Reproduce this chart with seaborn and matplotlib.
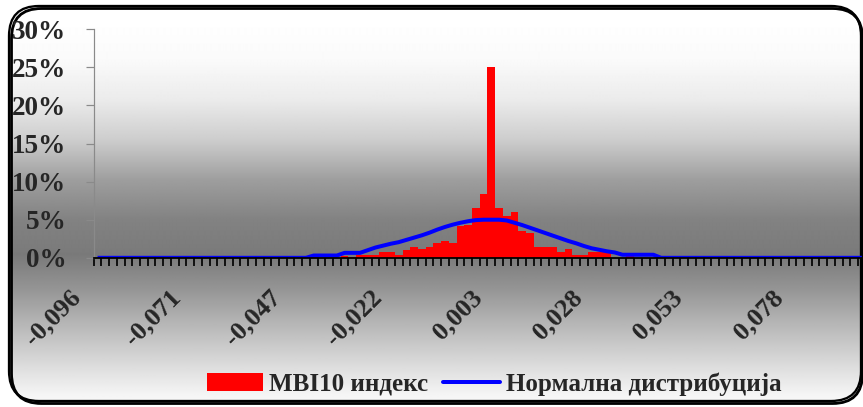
import numpy as np
import pandas as pd
import matplotlib
matplotlib.use('Agg')
import matplotlib.pyplot as plt
import seaborn as sns
from matplotlib.patches import FancyBboxPatch, Patch
from matplotlib.lines import Line2D
import matplotlib.transforms as mtransforms

# ---------------- data ----------------
bins = list(range(100))
mbi10 = ([0.0] * 25 + [0.15] * 4 + [0.0] * 3 +
         [0.3, 0.1, 0.35, 0.35, 0.35, 0.7, 0.7, 0.4, 1.0, 1.45, 1.2, 1.45,
          2.0, 2.2, 2.0, 4.2, 4.3, 6.55, 8.4, 25.1, 6.55, 5.5, 6.0, 3.5, 3.3,
          1.4, 1.4, 1.4, 0.7, 1.2, 0.4, 0.4, 0.7, 0.7, 0.7, 0.0, 0.0, 0.2] +
         [0.0] * 6 + [0.1] * 3 + [0.0] * 5 + [0.1] + [0.0] * 15)
normal = ([0.0] * 28 + [0.3] * 4 + [0.65] * 3 +
          [1.0, 1.35, 1.6, 1.85, 2.05, 2.35, 2.65, 2.95, 3.3, 3.7, 4.05, 4.35,
           4.6, 4.8, 4.95, 5.0, 5.0, 5.0, 4.9, 4.6, 4.3, 3.95, 3.6, 3.25, 2.9,
           2.55, 2.2, 1.9, 1.55, 1.25, 1.05, 0.85, 0.7] +
          [0.4] * 5 + [0.0] * 27)
assert len(mbi10) == 100 and len(normal) == 100

xtick_positions = [0, 13, 26, 39, 52, 65, 78, 91]
xtick_labels = ['-0,096', '-0,071', '-0,047', '-0,022', '0,003', '0,028', '0,053', '0,078']
ytick_values = [0, 5, 10, 15, 20, 25, 30]
ytick_labels = ['0%', '5%', '10%', '15%', '20%', '25%', '30%']
legend_labels = ['MBI10 индекс', 'Нормална дистрибуција']

df = pd.DataFrame({'bin': bins, 'mbi10': mbi10, 'normal': normal})

# ---------------- style ----------------
sns.set_style('white')
plt.rcParams['font.family'] = ['Liberation Serif', 'DejaVu Serif']
plt.rcParams['font.weight'] = 'bold'

W, H = 863, 407
DPI = 100
fig = plt.figure(figsize=(W / DPI, H / DPI), dpi=DPI)
fig.patch.set_facecolor('white')
PX = 72.0 / DPI  # points per pixel

# background gradient clipped into rounded frame
bg = fig.add_axes([0, 0, 1, 1], zorder=0)
bg.set_xlim(0, W)
bg.set_ylim(H, 0)
bg.axis('off')
rows = np.arange(H)
gy = [0, 20, 60, 100, 140, 180, 220, 255, 290, 330, 370, 395, 407]
gv = [255, 255, 250, 235, 205, 158, 130, 122, 150, 188, 224, 245, 250]
grad = np.interp(rows, gy, gv) / 255.0
img = np.repeat(grad[:, None], 4, axis=1)
im = bg.imshow(img, cmap='gray', vmin=0, vmax=1, extent=(0, W, H, 0),
               aspect='auto', interpolation='bilinear')
frame = FancyBboxPatch((9, 6), 852, 395, boxstyle='round,pad=0,rounding_size=30',
                       facecolor='none', edgecolor='black', linewidth=2.3 * PX,
                       transform=bg.transData, zorder=3)
shadow = FancyBboxPatch((11.5, 8.5), 851, 395, boxstyle='round,pad=0,rounding_size=30',
                        facecolor='none', edgecolor='black', linewidth=2.8 * PX,
                        transform=bg.transData, zorder=2)
bg.add_patch(shadow)
bg.add_patch(frame)
im.set_clip_path(frame)

# main axes
left = 93.7 / W
bottom = (H - 257.8) / H
top_px = 29.3
ax = fig.add_axes([left, bottom, 1.0 - left, (257.8 - top_px) / H], zorder=1)
ax.set_facecolor('none')

sns.barplot(data=df, x='bin', y='mbi10', color='#FF0000', saturation=1,
            width=1.0, linewidth=0, ax=ax, zorder=2)
ax.plot(df['bin'], df['normal'], color='#0000FF', linewidth=4.0 * PX, zorder=3,
        solid_capstyle='butt')

ax.set_xlim(-0.5, -0.5 + (W - 93.7) / 7.72)
ax.set_ylim(0, 30)
ax.set_xlabel('')
ax.set_ylabel('')

for s in ['top', 'right']:
    ax.spines[s].set_visible(False)
ax.spines['left'].set_color('#8a8a8a')
ax.spines['left'].set_linewidth(1.2 * PX)
ax.spines['bottom'].set_color('black')
ax.spines['bottom'].set_linewidth(1.8 * PX)
ax.spines['bottom'].set_zorder(4)

# y ticks
ax.set_yticks(ytick_values)
ax.set_yticklabels(ytick_labels, fontsize=19.5, fontweight='bold')
ax.tick_params(axis='y', direction='out', length=8 * PX, width=1.2 * PX,
               color='#8a8a8a', pad=19.5 * PX, left=True)

# x ticks: marks at category boundaries, labels at category centres
ax.set_xticks([b - 0.5 for b in bins])
ax.set_xticklabels([''] * len(bins))
ax.tick_params(axis='x', which='major', direction='out', length=8 * PX,
               width=1.7 * PX, color='black', bottom=True)
ax.set_xticks(xtick_positions, minor=True)
ax.set_xticklabels(xtick_labels, minor=True, fontsize=19, fontweight='bold',
                   rotation=45, ha='right', va='top', rotation_mode='anchor')
ax.tick_params(axis='x', which='minor', length=0, pad=28 * PX)
offset = mtransforms.ScaledTranslation(-29 / DPI, 0, fig.dpi_scale_trans)
for lab in ax.get_xticklabels(minor=True):
    lab.set_transform(lab.get_transform() + offset)

# legend
handles = [Patch(facecolor='#FF0000', edgecolor='none'),
           Line2D([0], [0], color='#0000FF', linewidth=4 * PX)]
fig.legend(handles, legend_labels, loc='center', bbox_to_anchor=(494 / W, (H - 384) / H),
           ncol=2, frameon=False, prop={'weight': 'bold', 'size': 18},
           handlelength=2.25, handleheight=0.75, handletextpad=0.25,
           columnspacing=0.6, borderpad=0, borderaxespad=0)

fig.savefig('out.png', dpi=DPI, facecolor='white')
